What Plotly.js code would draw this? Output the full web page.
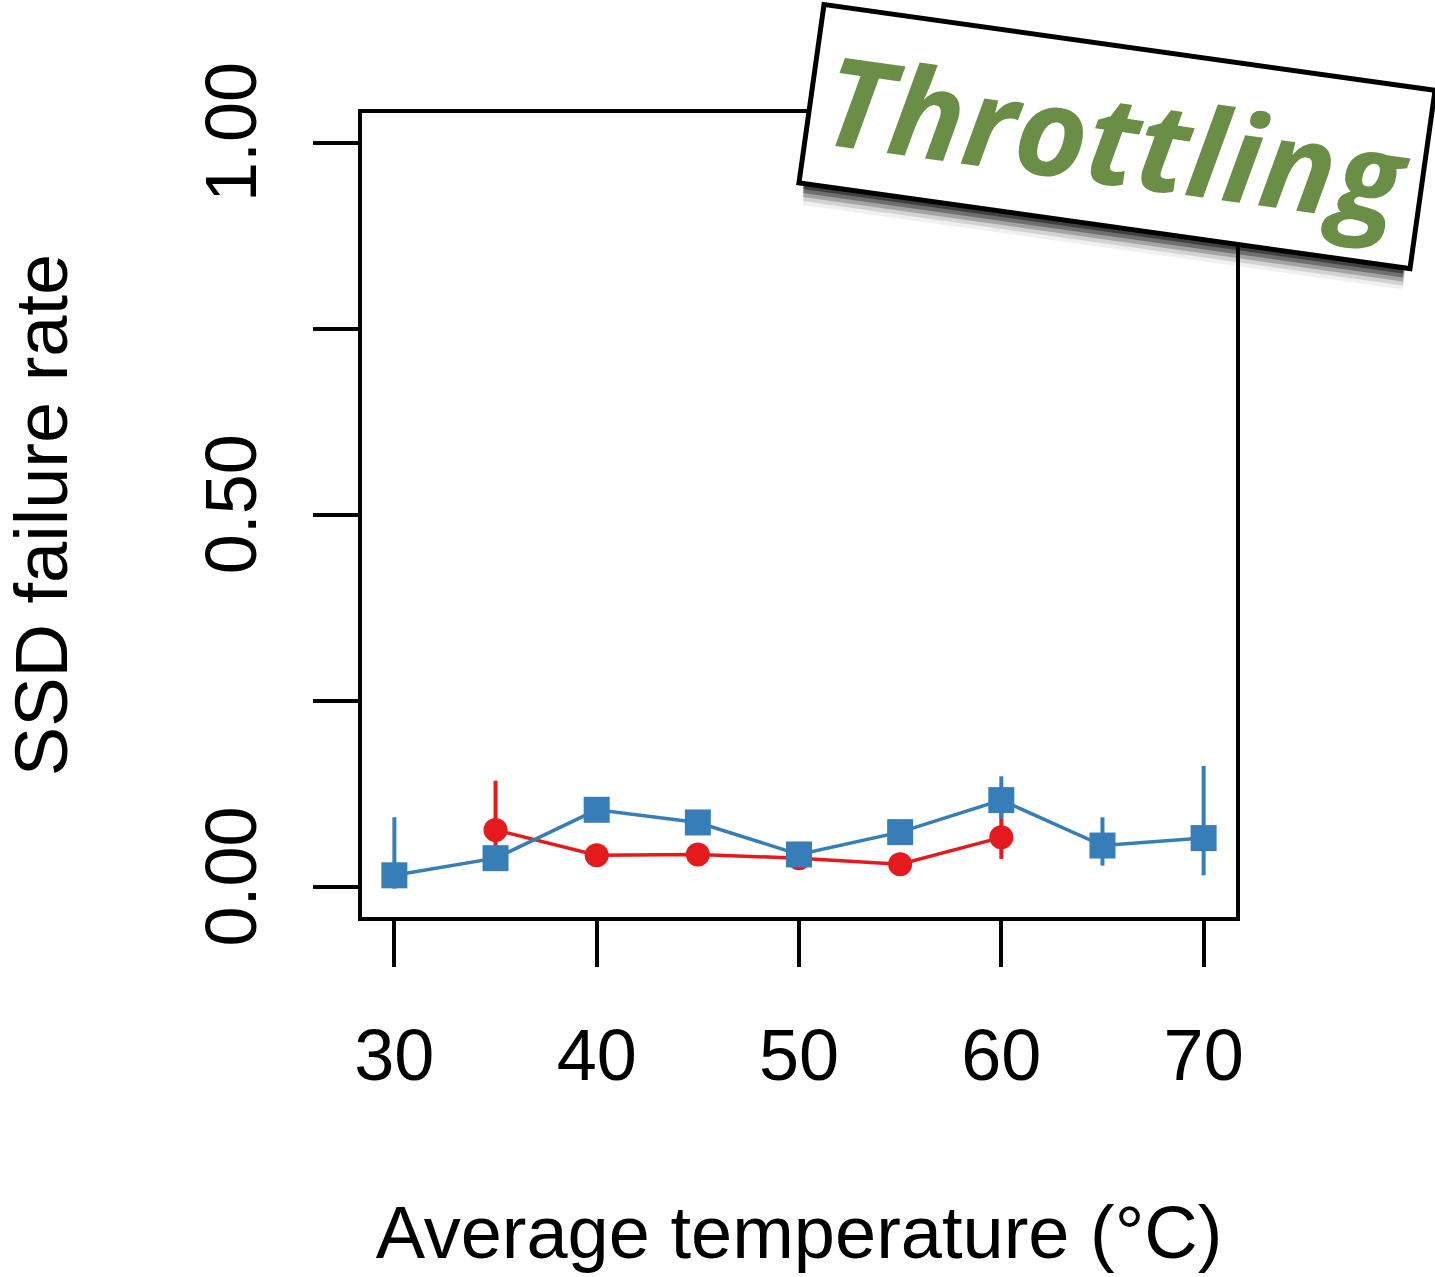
<!DOCTYPE html>
<html>
<head>
<meta charset="utf-8">
<script src="https://cdn.plot.ly/plotly-3.0.1.min.js"></script>
<style>html,body{margin:0;padding:0;background:#fff;}#chart{width:1435px;height:1277px;}</style>
</head>
<body>
<div id="chart"></div>
<script>
// Average temperature (°C)
const blueTemps = [30, 35, 40, 45, 50, 55, 60, 65, 70];
const blueRate  = [0.016, 0.039, 0.104, 0.087, 0.044, 0.074, 0.117, 0.056, 0.066];
const blueErrUp = [0.078, 0.010, 0.010, 0.010, 0.010, 0.010, 0.032, 0.038, 0.097];
const blueErrDn = [0.018, 0.010, 0.010, 0.010, 0.010, 0.010, 0.025, 0.027, 0.050];

const redTemps = [35, 40, 45, 50, 55, 60];
const redRate  = [0.077, 0.043, 0.044, 0.039, 0.031, 0.067];
const redErrUp = [0.066, 0.008, 0.008, 0.008, 0.008, 0.034];
const redErrDn = [0.045, 0.008, 0.008, 0.008, 0.008, 0.029];

const yTickVals = [0, 0.25, 0.5, 0.75, 1.0];
const yTickText = ['0.00', '', '0.50', '', '1.00'];
const xTickVals = [30, 40, 50, 60, 70];
const xTickText = ['30', '40', '50', '60', '70'];

const labelText = 'Throttling';

const BLUE = '#377eb8', RED = '#e41a1c';
const FONT = 'Liberation Sans, Arial, Helvetica, sans-serif';

const traces = [
  {
    x: redTemps, y: redRate, type: 'scatter', mode: 'lines+markers',
    line: {color: RED, width: 3.5},
    marker: {color: RED, size: 24, symbol: 'circle'},
    error_y: {type: 'data', symmetric: false, array: redErrUp, arrayminus: redErrDn,
              color: RED, thickness: 4, width: 0},
    showlegend: false, hoverinfo: 'x+y'
  },
  {
    x: blueTemps, y: blueRate, type: 'scatter', mode: 'lines+markers',
    line: {color: BLUE, width: 3.5},
    marker: {color: BLUE, size: 26, symbol: 'square'},
    error_y: {type: 'data', symmetric: false, array: blueErrUp, arrayminus: blueErrDn,
              color: BLUE, thickness: 4, width: 0},
    showlegend: false, hoverinfo: 'x+y'
  }
];

const cx = 0.8633, cy = 0.9708;
const boxW = 612, boxH = 175, ang = 8;
const shadowLayers = [
  {dy: -24, a: 0.06}, {dy: -20, a: 0.12}, {dy: -16, a: 0.22}, {dy: -12, a: 0.32}, {dy: -8, a: 0.42}, {dy: -4, a: 0.5}
];
const annotations = shadowLayers.map(s => ({
  xref: 'paper', yref: 'paper', x: cx, y: cy, xanchor: 'center', yanchor: 'middle',
  xshift: -2, yshift: s.dy,
  text: ' ', showarrow: false, textangle: ang, width: boxW - 6, height: boxH,
  bgcolor: 'rgba(0,0,0,' + s.a + ')', borderpad: 0, borderwidth: 0
}));
annotations.push({
  xref: 'paper', yref: 'paper', x: cx, y: cy, xanchor: 'center', yanchor: 'middle',
  text: labelText, showarrow: false, textangle: ang, width: boxW, height: boxH,
  bgcolor: '#ffffff', bordercolor: '#000', borderwidth: 5, borderpad: 0,
  font: {family: 'Open Sans, Noto Sans, sans-serif', size: 124, color: '#6b8e47', weight: 700, style: 'italic'}
});

const layout = {
  width: 1435, height: 1277,
  margin: {l: 362, r: 199, t: 113, b: 360, autoexpand: false},
  paper_bgcolor: '#fff', plot_bgcolor: '#fff',
  showlegend: false,
  xaxis: {
    range: [28.4, 71.6], autorange: false,
    tickvals: xTickVals, ticktext: xTickText,
    ticks: 'outside', ticklen: 46, tickwidth: 4, tickcolor: '#000',
    showline: true, mirror: true, linecolor: '#000', linewidth: 4,
    showgrid: false, zeroline: false,
    tickfont: {family: FONT, size: 72, color: '#000'},
    ticklabelstandoff: 27,
    title: {text: 'Average temperature (°C)', font: {family: FONT, size: 74, color: '#000'}, standoff: 113},
    automargin: false
  },
  yaxis: {
    range: [-0.04, 1.04], autorange: false,
    tickvals: yTickVals, ticktext: yTickText, tickangle: -90,
    ticks: 'outside', ticklen: 45, tickwidth: 4, tickcolor: '#000',
    showline: true, mirror: true, linecolor: '#000', linewidth: 4,
    showgrid: false, zeroline: false,
    tickfont: {family: FONT, size: 72, color: '#000'},
    ticklabelstandoff: 28,
    title: {text: 'SSD failure rate', font: {family: FONT, size: 74, color: '#000'}, standoff: 114},
    automargin: false
  },
  annotations: annotations
};

Plotly.newPlot('chart', traces, layout, {displayModeBar: false, staticPlot: true});
</script>
</body>
</html>
